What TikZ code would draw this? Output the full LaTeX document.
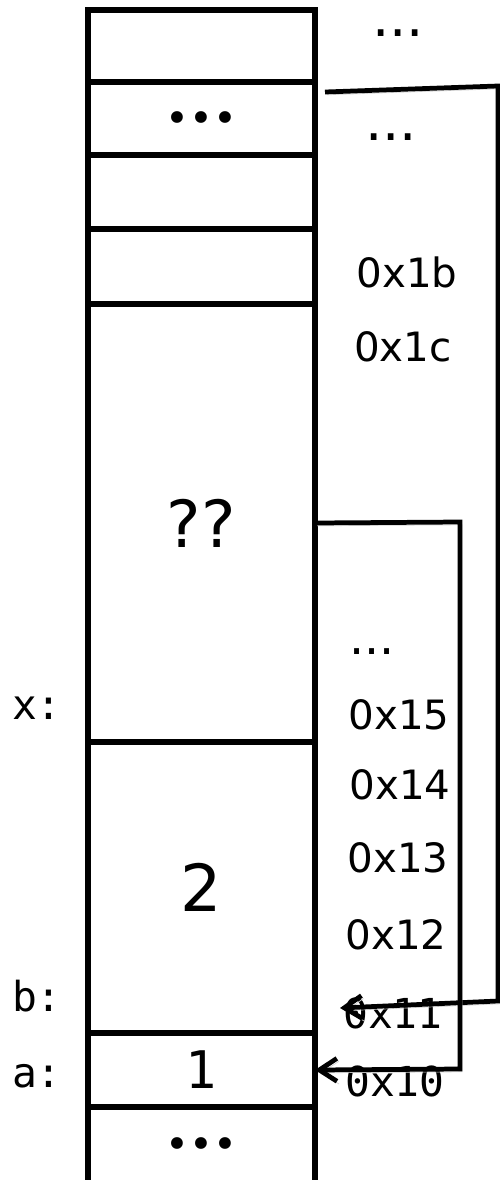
\documentclass[tikz,border=0pt]{standalone}
\usepackage{fontspec}
\setmainfont{DejaVu Sans}
\newfontfamily\monofam{DejaVu Sans Mono}
\usetikzlibrary{arrows.meta}
\begin{document}
\begin{tikzpicture}[x=0.02cm,y=-0.02cm,
  cell/.style={draw, line width=2.9pt, minimum width=4.54cm, inner sep=0pt, outer sep=0pt},
  bigval/.style={font=\fontsize{37}{44}\selectfont},
  monoval/.style={font=\monofam\fontsize{29.5}{35}\selectfont},
  dots/.style={inner sep=0pt, font=\fontsize{23}{28}\selectfont},
  addr/.style={inner sep=0pt, font=\fontsize{23}{28}\selectfont},
  monoaddr/.style={inner sep=0pt, font=\monofam\fontsize{23.5}{28}\selectfont},
  ell/.style={inner sep=0pt, font=\fontsize{31}{36}\selectfont},
  link/.style={line width=2.7pt, -{Straight Barb[length=10pt,width=13pt]},
    preaction={draw=black!18, transform canvas={shift={(1.2pt,-1.6pt)}}}},
]
\useasboundingbox (0,0) rectangle (500,1180);

% memory column
\node[cell, minimum height=1.44cm] (c1) at (201.5,46) {};
\node[cell, minimum height=1.46cm] (c2) at (201.5,118.5) {};
\node[cell, minimum height=1.48cm] (c3) at (201.5,192) {};
\node[cell, minimum height=1.50cm] (c4) at (201.5,266.5) {};
\node[cell, minimum height=8.76cm, bigval] (cx) at (201.5,523) {??};
\node[cell, minimum height=5.82cm, bigval] (cb) at (201.5,887.5) {2};
\node[cell, minimum height=1.48cm, monoval] (ca) at (201.5,1070) {1};
\node[inner sep=0pt, outer sep=0pt, minimum width=4.54cm, minimum height=1.46cm] (c0) at (201.5,1143.5) {};
\draw[line width=2.9pt] (c0.south west) -- (c0.north west) -- (c0.north east) -- (c0.south east);

\node[dots] (d2) at (201.5,122) {•••};
\node[dots] (d0) at (201.5,1148) {•••};

% variable names
\node[monoaddr] (lx) at (37,708) {x:};
\node[monoaddr] (lb) at (37,996) {b:};
\node[monoaddr] (la) at (37,1076) {a:};

% addresses
\node[ell] (e1) at (398,33) {...};
\node[ell] (e2) at (391,137) {...};
\node[addr] (a1b) at (407,272) {0x1b};
\node[addr] (a1c) at (403,347) {0x1c};
\node[addr, font=\fontsize{27}{32}\selectfont] (e3) at (372,652) {...};
\node[addr] (a15) at (399,715) {0x15};
\node[addr] (a14) at (400,785) {0x14};
\node[addr] (a13) at (398,858) {0x13};
\node[addr] (a12) at (396,935) {0x12};
\node[monoaddr] (a11) at (393,1013) {0x11};
\node[monoaddr] (a10) at (395,1081) {0x10};

% pointers
\coordinate (os) at (325,92);
\coordinate (o1) at (498,86);
\coordinate (o2) at (498,1001);
\coordinate (oe) at (340,1008);
\draw[link] (os) -- (o1) -- (o2) -- (oe);

\coordinate (i1) at (460,522);
\coordinate (i2) at (460,1069);
\draw[link] (cx.east) -- (i1) -- (i2) -- (ca.east);
\end{tikzpicture}
\end{document}
